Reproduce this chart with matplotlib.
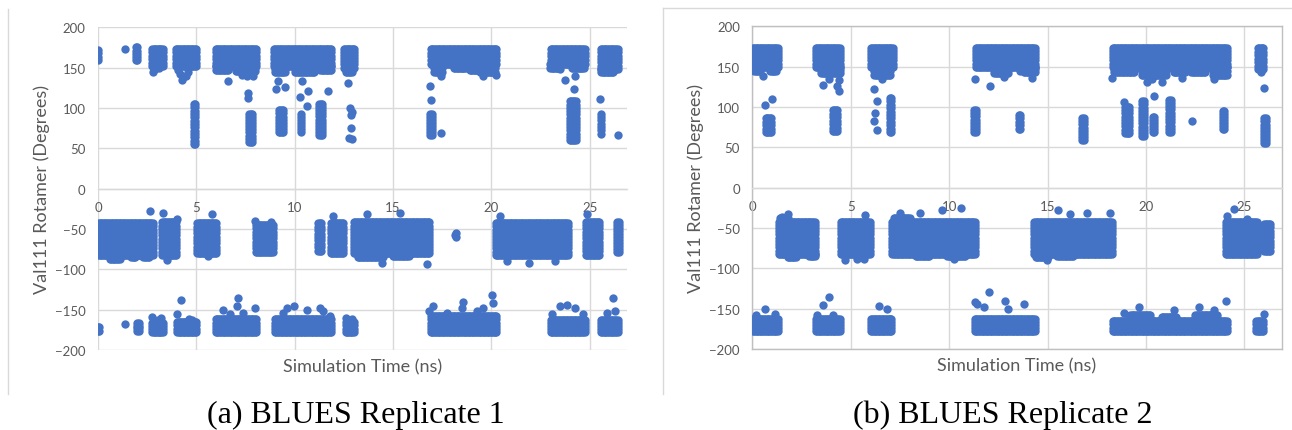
import numpy as np
import matplotlib
matplotlib.use("Agg")
import matplotlib.pyplot as plt
from matplotlib.lines import Line2D
from matplotlib.patches import Rectangle

plt.rcParams['font.family'] = ['Lato', 'DejaVu Sans']

BLUE = "#4472C4"
GREY_TXT = "#595959"

# dense runs of frames: (t_start, t_end, angle_low, angle_high)
# times in ns, angles in degrees (marker centres)
rep1_runs_top = [
    (0.0, 0.0, 159, 172), (1.95, 2.0, 159, 175), (2.76, 3.29, 152, 173),
    (3.95, 4.99, 152, 173), (5.98, 8.04, 152, 173), (6.0, 6.6, 147, 152),
    (7.0, 8.0, 146, 152), (8.95, 11.85, 152, 173), (9.0, 9.5, 145, 152),
    (10.0, 11.0, 145, 152), (11.3, 11.85, 147, 152), (12.5, 13.04, 150, 173),
    (12.6, 12.9, 144, 150), (16.92, 20.25, 155, 173), (17.1, 17.5, 145, 155),
    (18.1, 18.7, 150, 155), (18.9, 19.3, 147, 155), (19.4, 20.2, 145, 155),
    (23.02, 24.74, 155, 173), (23.0, 23.4, 150, 155), (24.1, 24.7, 150, 155),
    (25.56, 26.43, 148, 173), (25.6, 26.2, 145, 148),
]
rep1_runs_p75 = [
    (4.9, 4.95, 55, 105), (7.7, 7.85, 58, 93), (9.2, 9.4, 70, 97),
    (10.3, 10.3, 70, 93), (11.25, 11.4, 66, 105), (16.9, 17.0, 66, 93),
    (24.0, 24.3, 60, 108), (25.6, 25.6, 68, 93),
]
rep1_runs_m60 = [
    (0.01, 2.78, -82, -43), (0.6, 1.1, -87, -82), (1.7, 1.9, -85, -82),
    (2.3, 2.6, -85, -82), (3.27, 3.97, -82, -42), (5.05, 6.0, -80, -43),
    (8.02, 8.89, -78, -45), (11.2, 11.35, -77, -43), (11.83, 12.45, -80, -43),
    (13.02, 16.85, -80, -42), (13.2, 14.5, -85, -80), (15.0, 15.8, -84, -80),
    (20.22, 23.89, -82, -43), (24.8, 25.5, -82, -41), (26.4, 26.5, -79, -41),
]
rep1_runs_m170 = [
    (0.0, 0.05, -177, -172), (2.0, 2.1, -177, -166), (2.76, 3.29, -178, -166),
    (4.03, 4.99, -178, -165), (5.98, 8.04, -178, -162), (9.0, 11.85, -178, -162),
    (12.6, 13.0, -178, -165), (16.92, 20.25, -178, -158), (23.02, 24.74, -178, -163),
    (25.56, 26.43, -178, -163),
]
# isolated frames (time, angle)
rep1_pts_t = [1.37, 2.8, 2.9, 3.1, 4.05, 4.15, 4.3, 4.45, 4.55, 4.25, 6.6, 7.3, 7.55, 7.9,
              7.6, 7.65, 9.05, 9.17, 9.51, 10.27, 10.36, 10.7, 10.61, 11.71, 12.73, 12.8,
              12.9, 12.85, 12.85, 12.75, 12.9, 17.45, 19.6, 20.25, 16.88, 16.95, 17.43,
              23.5, 23.75, 24.26, 24.6, 24.18, 25.53, 26.46,
              2.64, 3.32, 4.0, 3.5, 5.78, 5.6, 8.0, 8.8, 18.2, 18.2, 18.15, 14.43, 16.72,
              15.36, 13.66, 11.97, 20.45, 20.8, 21.9, 23.24, 24.85,
              1.37, 2.75, 3.05, 3.2, 4.22, 4.0, 4.6, 4.8, 7.14, 7.09, 7.98, 6.37, 7.39, 6.7,
              9.6, 9.94, 10.61, 11.29, 9.43, 11.46, 11.8, 12.6, 12.9, 17.05, 18.58, 18.5,
              19.6, 20.02, 20.1, 19.26, 17.73, 16.85, 23.07, 23.5, 23.84, 24.26, 24.68,
              26.21, 25.87, 26.3]
rep1_pts_a = [173, 145, 148, 150, 147, 142, 138, 140, 145, 135, 133, 141, 139, 140,
              118, 112, 123, 133, 126, 113, 133, 121, 102, 121, 131, 100,
              95, 91, 75, 63, 62, 140, 140, 141, 127, 110, 69,
              148, 135, 140, 152, 124, 111, 67,
              -28, -30, -38, -88, -32, -84, -40, -41, -55, -60, -58, -92, -94,
              -30, -32, -34, -34, -90, -92, -90, -32,
              -168, -159, -163, -160, -138, -155, -162, -163, -135, -146, -148, -150, -154, -155,
              -148, -145, -150, -148, -154, -152, -158, -160, -161, -146, -140, -148,
              -148, -132, -142, -152, -154, -152, -156, -146, -144, -148, -156,
              -136, -154, -152]

rep2_runs_top = [
    (0.02, 1.29, 150, 173), (0.1, 0.4, 145, 150), (0.9, 1.2, 145, 150),
    (3.22, 4.43, 150, 173), (3.5, 4.43, 142, 150), (6.02, 7.14, 150, 173),
    (6.2, 7.0, 140, 150), (11.36, 14.35, 150, 173), (12.3, 13.0, 142, 150),
    (13.8, 14.35, 143, 150), (18.31, 24.1, 150, 173), (18.4, 19.4, 143, 150),
    (19.8, 21.0, 140, 150), (21.4, 22.0, 143, 150), (22.3, 23.0, 143, 150),
    (23.4, 24.1, 140, 150), (25.68, 25.96, 147, 173),
]
rep2_runs_p75 = [
    (0.68, 0.95, 69, 86), (4.1, 4.3, 70, 96), (6.98, 7.02, 69, 111),
    (11.28, 11.38, 69, 96), (13.55, 13.6, 73, 90), (16.75, 16.85, 59, 86),
    (18.95, 19.15, 68, 100), (19.8, 19.9, 64, 107), (20.38, 20.42, 69, 88),
    (21.15, 21.25, 69, 109), (23.92, 23.98, 73, 95), (26.02, 26.08, 55, 86),
]
rep2_runs_m60 = [
    (1.35, 3.16, -82, -42), (1.8, 2.2, -86, -82), (2.9, 3.16, -85, -82),
    (1.4, 1.8, -42, -37), (4.49, 5.96, -82, -42), (7.12, 11.3, -82, -42),
    (7.2, 8.0, -42, -37), (8.3, 9.0, -85, -82), (9.9, 10.8, -85, -82),
    (14.32, 18.25, -82, -42), (14.4, 15.0, -86, -82), (15.5, 16.3, -85, -82),
    (24.07, 25.62, -82, -42), (26.0, 26.3, -78, -45),
]
rep2_runs_m170 = [
    (0.02, 1.29, -178, -163), (3.22, 4.43, -178, -163), (6.02, 7.06, -178, -163),
    (11.3, 14.35, -178, -163), (18.31, 24.1, -178, -165), (19.2, 20.2, -165, -158),
    (20.8, 21.5, -165, -160), (22.5, 23.6, -165, -158), (25.6, 25.95, -178, -165),
]
rep2_pts_t = [0.56, 0.65, 0.99, 3.61, 4.29, 4.38, 3.9, 4.4, 6.58, 6.16, 6.33, 6.24, 6.16,
              6.33, 11.33, 12.09, 12.77, 14.21, 13.61, 18.28, 20.06, 20.31, 20.82, 21.84,
              23.45, 23.87, 18.9, 20.4, 22.35, 25.85, 25.99,
              1.5, 1.8, 4.71, 5.73, 5.65, 5.3, 9.63, 10.62, 7.5, 8.53, 10.23, 15.51, 17.0,
              18.19, 14.97, 16.16, 24.46, 24.12, 25.14,
              0.65, 1.15, 0.2, 3.61, 3.9, 3.27, 4.12, 6.44, 6.83, 7.0, 12.0, 11.41, 12.85,
              13.78, 11.33, 11.75, 13.0, 19.63, 21.41, 22.68, 23.45, 24.04, 18.87, 25.99]
rep2_pts_a = [138, 102, 110, 127, 126, 120, 135, 133, 135, 122, 108, 93, 83,
              71, 135, 126, 137, 136, 145, 136, 131, 135, 131, 136,
              135, 143, 106, 114, 83, 143, 123,
              -36, -33, -90, -34, -88, -88, -28, -25, -31, -31, -88, -28, -31,
              -31, -90, -33, -26, -35, -39,
              -150, -156, -158, -146, -135, -158, -158, -147, -151, -163, -129, -144, -140,
              -144, -142, -148, -150, -148, -152, -148, -152, -140, -155, -156]

caption1 = "(a) BLUES Replicate 1"
caption2 = "(b) BLUES Replicate 2"


def run_points(runs):
    ts, angs = [], []
    for t0, t1, lo, hi in runs:
        nt = max(1, int(round((t1 - t0) / 0.07)) + 1)
        na = max(1, int(round((hi - lo) / 4.0)) + 1)
        tt, aa = np.meshgrid(np.linspace(t0, t1, nt), np.linspace(lo, hi, na))
        ts.append(tt.ravel())
        angs.append(aa.ravel())
    return np.concatenate(ts), np.concatenate(angs)


def draw(ax, runs, pts_t, pts_a, framed):
    t, a = run_points(runs)
    t = np.concatenate([t, pts_t])
    a = np.concatenate([a, pts_a])
    ax.scatter(t, a, s=36, color=BLUE, linewidths=0, zorder=3)

    ax.set_xlim(0, 26.9)
    ax.set_ylim(-200, 200)
    ax.set_xticks(range(0, 26, 5))
    ax.set_yticks(range(-200, 201, 50))
    ax.grid(True, color="#D9D9D9", lw=1.0)
    ax.set_axisbelow(True)
    for s in ["top", "right", "left"]:
        ax.spines[s].set_visible(framed)
        ax.spines[s].set_color("#BFBFBF")
        ax.spines[s].set_linewidth(1.0)
    ax.spines["bottom"].set_position(("data", 0))
    ax.spines["bottom"].set_color("#D9D9D9")
    ax.spines["bottom"].set_linewidth(1.0)
    if framed:
        ax.plot([0, 1], [0, 0], transform=ax.transAxes, color="#BFBFBF",
                lw=1.0, clip_on=False, zorder=4)
    ax.tick_params(length=0, labelsize=9.5, labelcolor=GREY_TXT)
    ax.tick_params(axis="x", pad=9)
    ax.tick_params(axis="y", pad=9)

    ax.set_xlabel("Simulation Time (ns)", fontsize=13, color=GREY_TXT, va="center")
    ax.xaxis.set_label_coords(0.5, -0.05)
    ax.set_ylabel("Val111 Rotamer (Degrees)", fontsize=13, color=GREY_TXT, va="center")
    ax.yaxis.set_label_coords(-0.106, 0.5)


fig = plt.figure(figsize=(12.92, 4.31), dpi=100)
ax1 = fig.add_axes([0.0759, 0.1856, 0.4094, 0.749])
ax2 = fig.add_axes([0.5823, 0.1879, 0.4098, 0.7488])

draw(ax1, rep1_runs_top + rep1_runs_p75 + rep1_runs_m60 + rep1_runs_m170,
     rep1_pts_t, rep1_pts_a, framed=False)
draw(ax2, rep2_runs_top + rep2_runs_p75 + rep2_runs_m60 + rep2_runs_m170,
     rep2_pts_t, rep2_pts_a, framed=True)

# chart-area borders
border = "#D9D9D9"
fig.add_artist(Line2D([8 / 1292, 8 / 1292], [1 - 10 / 431, 1 - 395 / 431], color=border, lw=1))
fig.add_artist(Line2D([663 / 1292, 663 / 1292], [1 - 9 / 431, 1 - 395 / 431], color=border, lw=1))
fig.add_artist(Line2D([663 / 1292, 1.0], [1 - 9 / 431, 1 - 9 / 431], color=border, lw=1))

fig.text(356 / 1292, 1 - 415 / 431, caption1, ha="center", va="center",
         fontsize=23, family=["Liberation Serif", "DejaVu Serif"])
fig.text(1003 / 1292, 1 - 415 / 431, caption2, ha="center", va="center",
         fontsize=23, family=["Liberation Serif", "DejaVu Serif"])

fig.savefig("out.png", dpi=100)
